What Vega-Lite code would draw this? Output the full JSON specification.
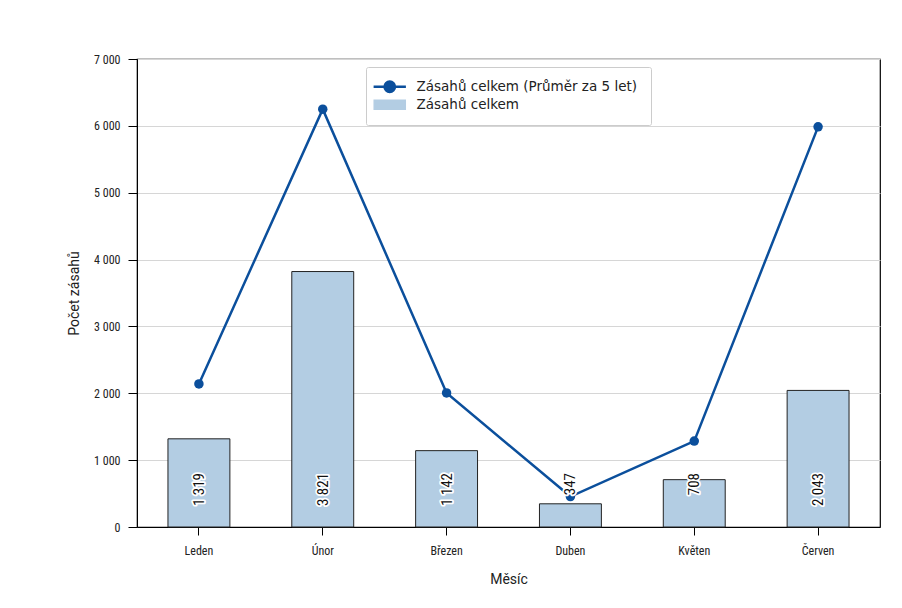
{
  "$schema": "https://vega.github.io/schema/vega-lite/v6.json",
  "width": 743,
  "height": 468,
  "autosize": {"type": "none"},
  "padding": {"left": 137, "top": 59, "right": 22, "bottom": 81},
  "background": "white",
  "config": {
    "locale": {"number": {"decimal": ",", "thousands": " ", "grouping": [3], "currency": ["", " Kč"]}},
    "view": {"stroke": "#000", "strokeWidth": 1.2},
    "font": "Roboto, sans-serif",
    "axis": {"labelFont": "Roboto Condensed, Roboto, sans-serif", "titleFont": "Roboto, sans-serif", "labelColor": "#222", "titleColor": "#222", "domainColor": "#000", "tickColor": "#000", "labelFontSize": 12, "titleFontSize": 14, "titleFontWeight": "normal"},
    "legend": {
      "title": null,
      "orient": "none",
      "legendX": 229,
      "legendY": 8,
      "strokeColor": "#cccccc",
      "fillColor": "white",
      "padding": 13,
      "cornerRadius": 2,
      "labelFont": "DejaVu Sans",
      "labelFontSize": 13.5,
      "labelColor": "#222",
      "labelLimit": 0,
      "symbolSize": 361,
      "symbolOffset": 4,
      "rowPadding": 0,
      "labelOffset": 20
    }
  },
  "data": {
    "values": [
      {"month": "Leden", "total": 1319, "avg": 2140},
      {"month": "Únor", "total": 3821, "avg": 6250},
      {"month": "Březen", "total": 1142, "avg": 2005},
      {"month": "Duben", "total": 347, "avg": 455},
      {"month": "Květen", "total": 708, "avg": 1285},
      {"month": "Červen", "total": 2043, "avg": 5985}
    ]
  },
  "encoding": {
    "x": {
      "field": "month", "type": "nominal", "sort": null,
      "scale": {"paddingInner": 0.5, "paddingOuter": 0.25},
      "axis": {"title": "Měsíc", "labelAngle": 0, "tickSize": 8, "labelPadding": 10, "titlePadding": 16, "domain": true}
    }
  },
  "layer": [
    {
      "mark": {"type": "bar", "stroke": "#222", "strokeWidth": 1, "fill": "#b3cde3"},
      "encoding": {
        "y": {
          "field": "total", "type": "quantitative",
          "scale": {"domain": [0, 7000], "nice": false},
          "axis": {"title": "Počet zásahů", "format": ",d", "values": [0,1000,2000,3000,4000,5000,6000,7000], "grid": true, "gridColor": "#d6d6d6", "tickSize": 9, "labelPadding": 8, "titlePadding": 12}
        },
        "color": {
          "datum": "Zásahů celkem",
          "scale": {"domain": ["Zásahů celkem (Průměr za 5 let)", "Zásahů celkem"], "range": ["#0b4f9c", "#b3cde3"]},
          "legend": {
            "labelLimit": 0,
            "encode": {
              "symbols": {
                "enter": {
                  "stroke": {"signal": "datum.value === 'Zásahů celkem' ? '#222222' : '#0b4f9c'"}
                },
                "update": {
                  "shape": {"signal": "datum.value === 'Zásahů celkem' ? 'M-1.65,-0.5H1.65V0.5H-1.65Z' : 'M-1.7,0H1.7M-0.55,0A0.55,0.55 0 1,1 0.55,0A0.55,0.55 0 1,1 -0.55,0Z'"},
                  "fill": {"signal": "datum.value === 'Zásahů celkem' ? '#b3cde3' : '#0b4f9c'"},
                  "stroke": {"signal": "datum.value === 'Zásahů celkem' ? '#222222' : '#0b4f9c'"},
                  "strokeWidth": {"signal": "datum.value === 'Zásahů celkem' ? 1.2 : 2.5"},
                  "strokeOpacity": {"value": 1},
                  "opacity": {"value": 1}
                }
              }
            }
          }
        }
      }
    },
    {
      "mark": {"type": "line", "strokeWidth": 2.5, "point": {"filled": true, "size": 90, "color": "#0b4f9c"}},
      "encoding": {
        "y": {
          "field": "avg", "type": "quantitative",
          "axis": {"title": "Počet zásahů", "format": ",d", "values": [0,1000,2000,3000,4000,5000,6000,7000], "grid": true, "gridColor": "#d6d6d6", "tickSize": 9, "labelPadding": 8, "titlePadding": 12}
        },
        "color": {
          "datum": "Zásahů celkem (Průměr za 5 let)",
          "legend": {
            "labelLimit": 0,
            "encode": {
              "symbols": {
                "enter": {
                  "stroke": {"signal": "datum.value === 'Zásahů celkem' ? '#222222' : '#0b4f9c'"}
                },
                "update": {
                  "shape": {"signal": "datum.value === 'Zásahů celkem' ? 'M-1.65,-0.5H1.65V0.5H-1.65Z' : 'M-1.7,0H1.7M-0.55,0A0.55,0.55 0 1,1 0.55,0A0.55,0.55 0 1,1 -0.55,0Z'"},
                  "fill": {"signal": "datum.value === 'Zásahů celkem' ? '#b3cde3' : '#0b4f9c'"},
                  "stroke": {"signal": "datum.value === 'Zásahů celkem' ? '#222222' : '#0b4f9c'"},
                  "strokeWidth": {"signal": "datum.value === 'Zásahů celkem' ? 1.2 : 2.5"},
                  "strokeOpacity": {"value": 1},
                  "opacity": {"value": 1}
                }
              }
            }
          }
        }
      }
    },
    {
      "mark": {"type": "text", "angle": 270, "align": "right", "baseline": "middle", "fontSize": 15, "font": "Roboto Condensed, Roboto, sans-serif", "stroke": "white", "strokeWidth": 3.5, "strokeJoin": "round", "fill": "white"},
      "encoding": {
        "y": {"datum": 808, "type": "quantitative"},
        "text": {"field": "total", "type": "quantitative", "format": ",d"}
      }
    },
    {
      "mark": {"type": "text", "angle": 270, "align": "right", "baseline": "middle", "fontSize": 15, "font": "Roboto Condensed, Roboto, sans-serif", "fill": "#111"},
      "encoding": {
        "y": {"datum": 808, "type": "quantitative"},
        "text": {"field": "total", "type": "quantitative", "format": ",d"}
      }
    }
  ]
}
